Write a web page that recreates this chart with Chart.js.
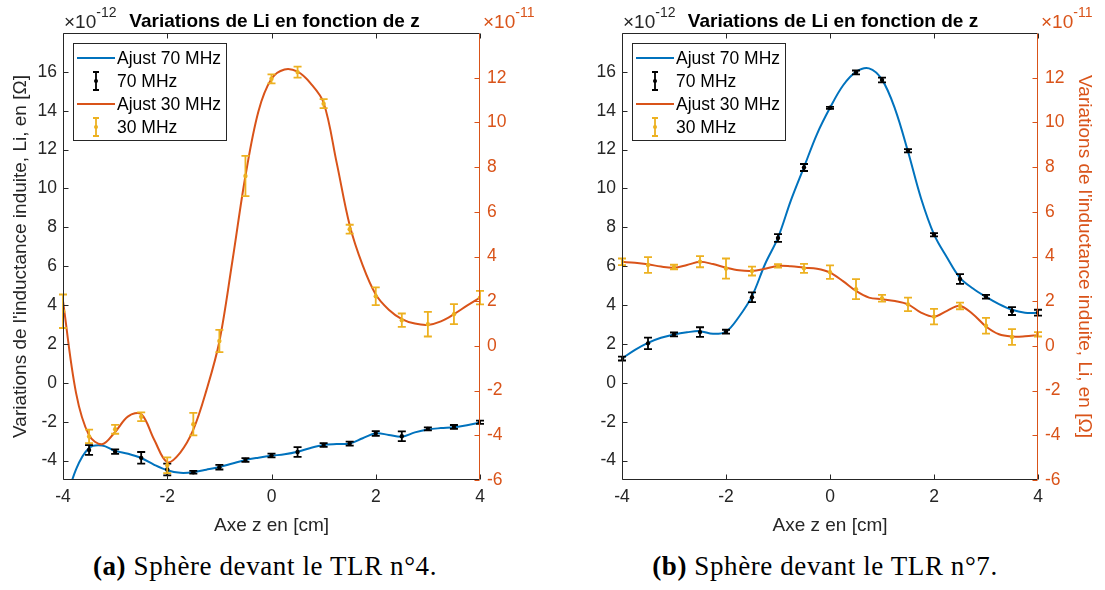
<!DOCTYPE html>
<html>
<head>
<meta charset="utf-8">
<script src="https://cdn.jsdelivr.net/npm/chart.js@4"></script>
<style>
  body { margin: 0; background: #fff; width: 1105px; height: 590px; position: relative; overflow: hidden; }
  canvas { position: absolute; top: 0; }
  #chartA { left: 0; }
  #chartB { left: 552px; }
  .cap { position: absolute; top: 551px; font-family: "Liberation Serif", serif; font-size: 27px; letter-spacing: 0.6px; white-space: nowrap; transform: translateX(-50%); color: #000; }
</style>
</head>
<body>
<canvas id="chartA" width="552" height="545"></canvas>
<canvas id="chartB" width="553" height="545"></canvas>
<div class="cap" style="left:265px"><b>(a)</b> Sphère devant le TLR n°4.</div>
<div class="cap" style="left:825px"><b>(b)</b> Sphère devant le TLR n°7.</div>
<script>
// positions des mesures (cm)
const zPoints = [-4, -3.5, -3, -2.5, -2, -1.5, -1, -0.5, 0, 0.5, 1, 1.5, 2, 2.5, 3, 3.5, 4];
// abscisses des courbes d'ajustement
const fitZ = [-4, -3.75, -3.5, -3.25, -3, -2.75, -2.5, -2.25, -2, -1.75, -1.5, -1.25, -1, -0.75, -0.5, -0.25,
  0, 0.25, 0.5, 0.75, 1, 1.25, 1.5, 1.75, 2, 2.25, 2.5, 2.75, 3, 3.25, 3.5, 3.75, 4];

const zTicks = [-4, -2, 0, 2, 4];
const leftTicks = [-4, -2, 0, 2, 4, 6, 8, 10, 12, 14, 16];
const rightTicks = [-6, -4, -2, 0, 2, 4, 6, 8, 10, 12];

// (a) TLR n°4 — 70 MHz en 1e-12, 30 MHz en 1e-11
const a70 = [null, -3.46, -3.54, -3.86, -4.46, -4.6, -4.34, -3.97, -3.74, -3.56, -3.2, -3.13, -2.61, -2.75, -2.37, -2.27, -2.03];
const a70Err = [0, 0.25, 0.12, 0.3, 0.3, 0.07, 0.12, 0.1, 0.1, 0.25, 0.1, 0.1, 0.12, 0.25, 0.08, 0.1, 0.08];
const a30 = [1.55, -4.05, -3.73, -3.17, -5.34, -3.5, 0.22, 7.6, 11.95, 12.25, 10.84, 5.22, 2.22, 1.15, 0.97, 1.42, 2.16];
const a30Err = [0.75, 0.3, 0.2, 0.2, 0.35, 0.5, 0.5, 0.9, 0.2, 0.25, 0.2, 0.2, 0.4, 0.3, 0.55, 0.45, 0.3];
const aFit70 = [-6.6, -4.45, -3.35, -3.22, -3.5, -3.65, -3.87, -4.22, -4.5, -4.63, -4.6, -4.47, -4.33, -4.15, -3.97, -3.85,
  -3.75, -3.68, -3.55, -3.35, -3.2, -3.15, -3.12, -2.85, -2.6, -2.68, -2.77, -2.55, -2.4, -2.33, -2.28, -2.18, -2.05];
const aFit30 = [2.0, -2.1, -4.0, -4.4, -3.85, -3.15, -3.05, -4.2, -5.2, -4.77, -3.75, -2.0, 0.2, 3.8, 7.6, 10.5,
  11.95, 12.37, 12.27, 11.75, 10.88, 8.2, 5.4, 3.6, 2.3, 1.62, 1.2, 1.0, 0.94, 1.1, 1.42, 1.8, 2.16];

// (b) TLR n°7
const b70 = [1.25, 2.03, 2.49, 2.61, 2.63, 4.4, 7.45, 11.08, 14.15, 15.97, 15.58, 11.94, 7.62, 5.34, 4.43, 3.69, 3.61];
const b70Err = [0.1, 0.3, 0.1, 0.25, 0.1, 0.25, 0.2, 0.18, 0.05, 0.1, 0.12, 0.08, 0.08, 0.25, 0.1, 0.2, 0.15];
const b30 = [3.76, 3.62, 3.53, 3.77, 3.46, 3.35, 3.58, 3.47, 3.3, 2.54, 2.13, 1.86, 1.31, 1.79, 0.9, 0.4, 0.52];
const b30Err = [0.15, 0.35, 0.1, 0.25, 0.45, 0.2, 0.08, 0.2, 0.3, 0.45, 0.15, 0.3, 0.35, 0.15, 0.35, 0.35, 0.1];
const bFit70 = [1.25, 1.7, 2.06, 2.32, 2.49, 2.6, 2.66, 2.52, 2.63, 3.4, 4.46, 6.1, 7.47, 9.4, 11.1, 12.8,
  14.15, 15.3, 16.0, 16.18, 15.6, 14.1, 11.9, 9.5, 7.64, 6.45, 5.4, 4.85, 4.42, 4.05, 3.76, 3.61, 3.6];
const bFit30 = [3.76, 3.72, 3.65, 3.55, 3.5, 3.62, 3.76, 3.66, 3.5, 3.38, 3.35, 3.45, 3.58, 3.56, 3.5, 3.45,
  3.28, 2.9, 2.46, 2.16, 2.09, 2.01, 1.86, 1.49, 1.31, 1.57, 1.79, 1.42, 0.87, 0.52, 0.42, 0.43, 0.48];

const BLUE = "#0072BD", ORANGE = "#D95319", YELLOW = "#EDB120", DARK = "#262626";
const SANS = '"Liberation Sans", Arial, sans-serif';
const TITLE = "Variations de Li en fonction de z";
const YLABEL = "Variations de l'inductance induite, Li, en [Ω]";

const toXY = (xs, ys) => xs.map((x, i) => ({ x, y: ys[i] }));

// barres d'erreur, dessinées juste après chaque jeu de points
const errorBars = {
  id: "errorBars",
  afterDatasetDraw(chart, args) {
    const ds = chart.data.datasets[args.index];
    if (!ds.errors) return;
    const ys = chart.scales[ds.yAxisID];
    const ctx = chart.ctx;
    ctx.save();
    ctx.strokeStyle = ds.borderColor;
    ctx.lineWidth = 1.8;
    args.meta.data.forEach((pt, i) => {
      const v = ds.data[i].y;
      if (v == null) return;
      const e = ds.errors[i];
      const x = pt.x;
      const y1 = ys.getPixelForValue(v - e);
      const y2 = ys.getPixelForValue(v + e);
      ctx.beginPath();
      ctx.moveTo(x, y1); ctx.lineTo(x, y2);
      ctx.moveTo(x - 4, y1); ctx.lineTo(x + 4, y1);
      ctx.moveTo(x - 4, y2); ctx.lineTo(x + 4, y2);
      ctx.stroke();
    });
    ctx.restore();
  }
};

// cadre façon MATLAB, graduations internes, exposants, titre, légende
const matlabAxes = {
  id: "matlabAxes",
  afterDraw(chart) {
    const { ctx, chartArea: a, scales } = chart;
    const L = Math.round(a.left) + 0.5, R = Math.round(a.right) - 0.5;
    const T = Math.round(a.top) + 0.5, B = Math.round(a.bottom) - 0.5;
    const tl = 5;
    ctx.save();
    ctx.lineWidth = 1;
    ctx.strokeStyle = DARK;
    ctx.beginPath();
    ctx.moveTo(L, T); ctx.lineTo(R, T);
    ctx.moveTo(L, B); ctx.lineTo(R, B);
    ctx.moveTo(L, T); ctx.lineTo(L, B);
    zTicks.forEach(v => {
      const x = Math.round(scales.x.getPixelForValue(v)) + 0.5;
      ctx.moveTo(x, B); ctx.lineTo(x, B - tl);
      ctx.moveTo(x, T); ctx.lineTo(x, T + tl);
    });
    leftTicks.forEach(v => {
      const y = Math.round(scales.y.getPixelForValue(v)) + 0.5;
      ctx.moveTo(L, y); ctx.lineTo(L + tl, y);
    });
    ctx.stroke();
    ctx.strokeStyle = ORANGE;
    ctx.beginPath();
    ctx.moveTo(R, T); ctx.lineTo(R, B);
    rightTicks.forEach(v => {
      const y = Math.round(scales.y2.getPixelForValue(v)) + 0.5;
      ctx.moveTo(R, y); ctx.lineTo(R - tl, y);
    });
    ctx.stroke();

    // exposants
    ctx.textBaseline = "alphabetic";
    ctx.textAlign = "left";
    const expo = (x, txt, color) => {
      ctx.fillStyle = color;
      ctx.font = "19px " + SANS;
      ctx.fillText("×10", x, 28);
      const w = ctx.measureText("×10").width;
      ctx.font = "14px " + SANS;
      ctx.fillText(txt, x + w, 17);
    };
    expo(a.left + 1, "-12", DARK);
    expo(a.right + 3, "-11", ORANGE);

    // titre
    ctx.fillStyle = "#000";
    ctx.font = "bold 19px " + SANS;
    ctx.textAlign = "center";
    ctx.fillText(TITLE, (a.left + a.right) / 2 + 3, 27);

    // légende
    const lx = a.left + 10, ly = a.top + 10;
    ctx.fillStyle = "#fff";
    ctx.fillRect(lx, ly, 153, 97);
    ctx.strokeStyle = DARK;
    ctx.strokeRect(Math.round(lx) + 0.5, Math.round(ly) + 0.5, 153, 97);
    const rows = [
      { text: "Ajust 70 MHz", color: BLUE, kind: "line" },
      { text: "70 MHz", color: "#000", kind: "err" },
      { text: "Ajust 30 MHz", color: ORANGE, kind: "line" },
      { text: "30 MHz", color: YELLOW, kind: "err" }
    ];
    ctx.font = "17.5px " + SANS;
    ctx.textAlign = "left";
    ctx.textBaseline = "middle";
    rows.forEach((r, i) => {
      const y = ly + 15 + i * 23;
      ctx.strokeStyle = r.color;
      ctx.lineWidth = r.kind === "line" ? 2 : 1.8;
      ctx.beginPath();
      if (r.kind === "line") {
        ctx.moveTo(lx + 4, y); ctx.lineTo(lx + 42, y);
      } else {
        const cx = lx + 23;
        ctx.moveTo(cx, y - 9); ctx.lineTo(cx, y + 9);
        ctx.moveTo(cx - 3, y - 9); ctx.lineTo(cx + 3, y - 9);
        ctx.moveTo(cx - 3, y + 9); ctx.lineTo(cx + 3, y + 9);
      }
      ctx.stroke();
      if (r.kind === "err") {
        ctx.fillStyle = r.color;
        ctx.beginPath(); ctx.arc(lx + 23, y, 2, 0, Math.PI * 2); ctx.fill();
      }
      ctx.fillStyle = "#000";
      ctx.fillText(r.text, lx + 44, y + 1);
    });
    ctx.restore();
  }
};

function makeChart(id, s) {
  const ctx = document.getElementById(id).getContext("2d");
  return new Chart(ctx, {
    type: "scatter",
    data: {
      datasets: [
        {
          label: "30 MHz", data: toXY(zPoints, s.p30), errors: s.e30, yAxisID: "y2",
          showLine: false, pointRadius: 2.2, pointBackgroundColor: YELLOW, pointBorderWidth: 0,
          borderColor: YELLOW, backgroundColor: YELLOW
        },
        {
          label: "Ajust 30 MHz", data: toXY(fitZ, s.f30), yAxisID: "y2",
          showLine: true, pointRadius: 0, borderColor: ORANGE, borderWidth: 2, tension: 0.35, clip: 0
        },
        {
          label: "70 MHz", data: toXY(zPoints, s.p70), errors: s.e70, yAxisID: "y",
          showLine: false, pointRadius: 2.2, pointBackgroundColor: "#000", pointBorderWidth: 0,
          borderColor: "#000", backgroundColor: "#000"
        },
        {
          label: "Ajust 70 MHz", data: toXY(fitZ, s.f70), yAxisID: "y",
          showLine: true, pointRadius: 0, borderColor: BLUE, borderWidth: 2, tension: 0.35, clip: 0
        }
      ]
    },
    options: {
      responsive: false,
      animation: false,
      events: [],
      layout: { padding: { top: 33, left: 0, right: 0, bottom: 0 } },
      plugins: { legend: { display: false }, tooltip: { enabled: false }, title: { display: false } },
      scales: {
        x: {
          type: "linear", min: -4, max: 4,
          grid: { display: false, drawTicks: false }, border: { display: false },
          afterBuildTicks: sc => { sc.ticks = zTicks.map(v => ({ value: v })); },
          afterFit: sc => { sc.height = 65; },
          ticks: { color: DARK, font: { family: SANS, size: 17.5 }, padding: 7, maxRotation: 0 },
          title: { display: true, text: "Axe z en [cm]", color: DARK, font: { family: SANS, size: 19 }, padding: { top: 0, bottom: 8 } }
        },
        y: {
          type: "linear", position: "left", min: -5, max: 18,
          grid: { display: false, drawTicks: false }, border: { display: false },
          afterBuildTicks: sc => { sc.ticks = leftTicks.map(v => ({ value: v })); },
          afterFit: sc => { sc.width = s.leftW; },
          ticks: { color: DARK, font: { family: SANS, size: 17.5 }, padding: 6 },
          title: { display: s.leftTitle, text: YLABEL, color: DARK, font: { family: SANS, size: 19 }, padding: { top: 9, bottom: 0 } }
        },
        y2: {
          type: "linear", position: "right", min: -6, max: 14,
          grid: { display: false, drawTicks: false }, border: { display: false },
          afterBuildTicks: sc => { sc.ticks = rightTicks.map(v => ({ value: v })); },
          afterFit: sc => { sc.width = s.rightW; },
          ticks: { color: ORANGE, font: { family: SANS, size: 17.5 }, padding: 7 },
          title: { display: !s.leftTitle, text: YLABEL, color: ORANGE, font: { family: SANS, size: 19 }, padding: { top: 9, bottom: 0 } }
        }
      }
    },
    plugins: [errorBars, matlabAxes]
  });
}

makeChart("chartA", { p70: a70, e70: a70Err, p30: a30, e30: a30Err, f70: aFit70, f30: aFit30, leftW: 63, rightW: 72, leftTitle: true });
makeChart("chartB", { p70: b70, e70: b70Err, p30: b30, e30: b30Err, f70: bFit70, f30: bFit30, leftW: 70, rightW: 67, leftTitle: false });
</script>
</body>
</html>
